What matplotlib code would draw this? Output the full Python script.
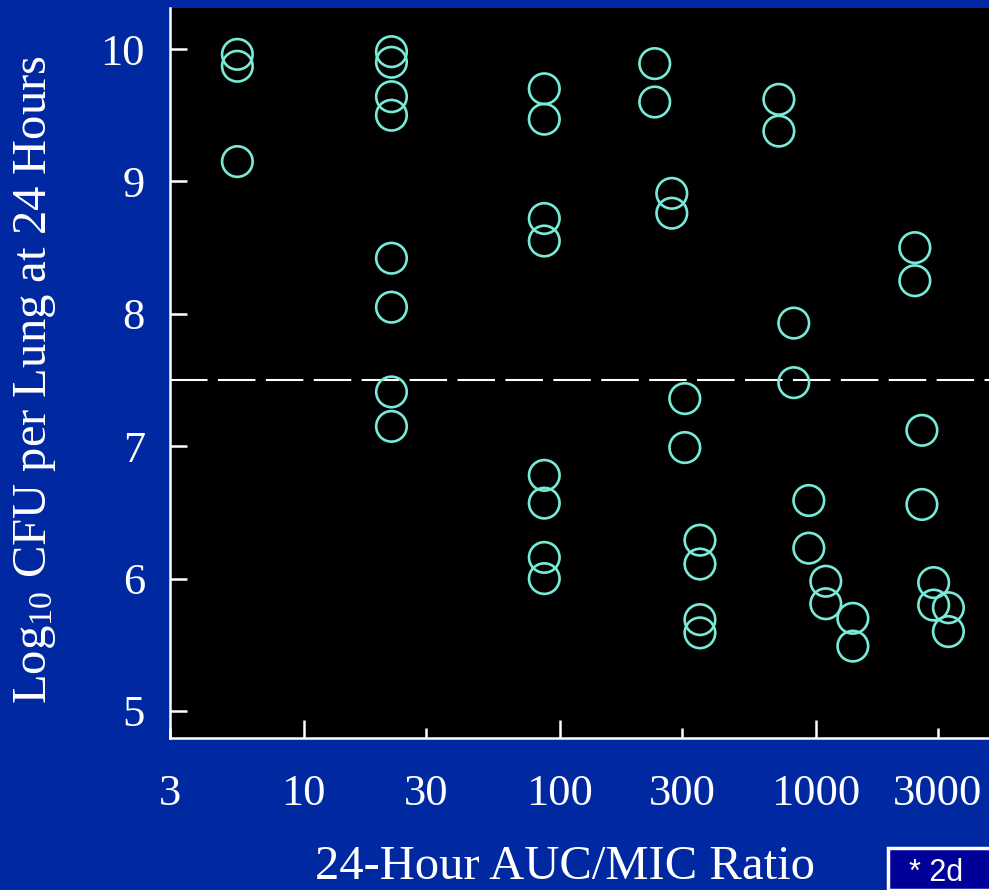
import matplotlib
matplotlib.use("Agg")
import matplotlib.pyplot as plt
from matplotlib.patches import Rectangle
import numpy as np

plt.rcParams['font.family'] = ['Liberation Serif', 'DejaVu Serif']
plt.rcParams['mathtext.fontset'] = 'custom'
plt.rcParams['mathtext.rm'] = 'Liberation Serif'
plt.rcParams['mathtext.it'] = 'Liberation Serif:italic'
plt.rcParams['lines.scale_dashes'] = False

# Data: 24-hour AUC/MIC ratio vs log10 CFU per lung at 24 h
auc_mic = [5.5, 5.5, 5.5,
           22, 22, 22, 22, 22, 22, 22, 22,
           87, 87, 87, 87, 87, 87, 87, 87,
           235, 235, 274, 274, 308, 308, 353, 353, 353, 353,
           718, 718, 821, 821, 940, 940, 1095, 1095, 1397, 1397,
           2440, 2440, 2600, 2600, 2890, 2890, 3300, 3300]
log_cfu = [9.96, 9.87, 9.15,
           9.98, 9.90, 9.64, 9.50, 8.42, 8.05, 7.41, 7.15,
           9.70, 9.47, 8.72, 8.55, 6.78, 6.57, 6.16, 6.00,
           9.89, 9.60, 8.91, 8.76, 7.36, 6.99, 6.29, 6.11, 5.69, 5.59,
           9.62, 9.38, 7.93, 7.48, 6.59, 6.23, 5.98, 5.81, 5.70, 5.49,
           8.50, 8.25, 7.12, 6.56, 5.97, 5.80, 5.78, 5.60]
threshold = 7.5
x_ticks = [3, 10, 30, 100, 300, 1000, 3000]
x_tick_labels = ['3', '10', '30', '100', '300', '1000', '3000']
y_ticks = [5, 6, 7, 8, 9, 10]

BG = '#0028A0'
fig = plt.figure(figsize=(9.89, 8.9), dpi=100, facecolor=BG)
ax = fig.add_axes([170/989, (890-738)/890, 1 - 170/989, (738-8)/890])
ax.set_facecolor('black')
ax.set_xscale('log')
ax.set_xlim(3, 4755)
ax.set_ylim(4.796, 10.31)

ax.axhline(threshold, color='white', lw=1.5, dashes=(27, 7.5))
ax.scatter(auc_mic, log_cfu, s=22**2, facecolors='none', edgecolors='#78EAD8',
           linewidths=1.9, zorder=3)

for s in ['top', 'right']:
    ax.spines[s].set_visible(False)
for s in ['left', 'bottom']:
    ax.spines[s].set_color('white')
    ax.spines[s].set_linewidth(1.8)

ax.set_xticks(x_ticks)
ax.set_xticklabels(x_tick_labels)
ax.xaxis.set_minor_locator(matplotlib.ticker.NullLocator())
ax.set_yticks(y_ticks)
ax.tick_params(axis='both', direction='in', colors='white', labelsize=32,
               width=1.8, labelcolor='white')
ax.tick_params(axis='y', length=12, pad=18)
ax.tick_params(axis='x', length=13, pad=26)
# shorter ticks at 3-multiples
for t, v in zip(ax.xaxis.get_major_ticks(), x_ticks):
    if str(v).startswith('3'):
        t.tick1line.set_markersize(7)

fig.text(565/989, 1 - 867/890, '24-Hour AUC/MIC Ratio', color='white',
         fontsize=35, ha='center', va='center')
fig.text(35/989, 1 - 380/890, r'Log$_{\mathregular{10}}$ CFU per Lung at 24 Hours',
         color='white', fontsize=35, ha='center', va='center', rotation=90)

fig.patches.append(Rectangle((888/989, 0), 0.2, (890-848)/890,
                             transform=fig.transFigure, facecolor='#000099',
                             edgecolor='white', linewidth=2.5, zorder=5))
fig.text(909/989, 1 - 888/890, '* 2d', color='white', fontsize=22,
         family='Liberation Sans', ha='left', va='bottom', zorder=6)

fig.savefig('out.png', dpi=100, facecolor=BG)
